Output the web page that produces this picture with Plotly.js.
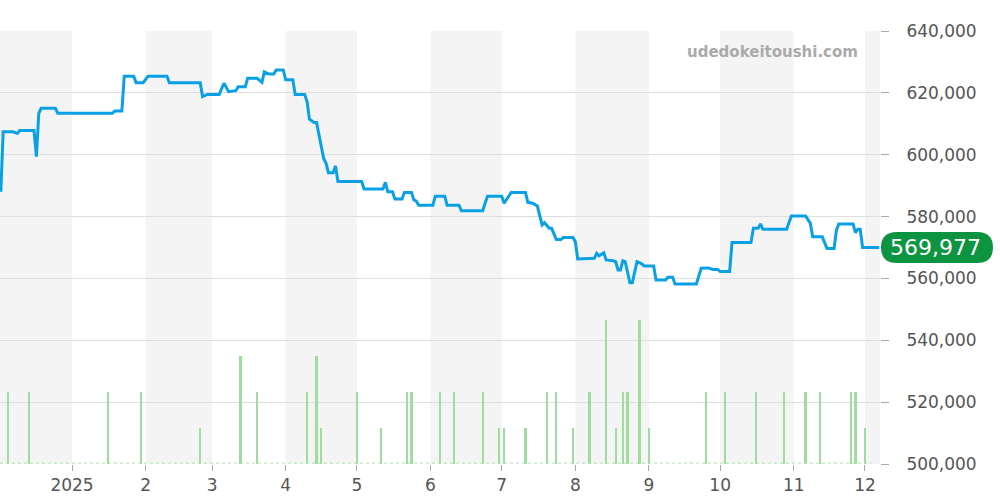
<!DOCTYPE html>
<html>
<head>
<meta charset="utf-8">
<script src="https://cdn.plot.ly/plotly-3.0.1.min.js"></script>
<style>html,body{margin:0;padding:0;background:#fff}#chart{width:1000px;height:500px}</style>
</head>
<body>
<div id="chart"></div>
<script>
const priceDates = [
 '2024-12-02','2024-12-03','2024-12-07','2024-12-09','2024-12-10','2024-12-16','2024-12-17','2024-12-18','2024-12-19','2024-12-25',
 '2024-12-26','2025-01-18','2025-01-19','2025-01-22','2025-01-23','2025-01-27','2025-01-28','2025-01-31','2025-02-02','2025-02-10',
 '2025-02-11','2025-02-24','2025-02-25','2025-02-27','2025-03-04','2025-03-06','2025-03-08','2025-03-11','2025-03-12','2025-03-15',
 '2025-03-16','2025-03-20','2025-03-22','2025-03-23','2025-03-25','2025-03-27','2025-03-28','2025-03-31','2025-04-01','2025-04-04',
 '2025-04-05','2025-04-09','2025-04-10','2025-04-11','2025-04-13','2025-04-14','2025-04-17','2025-04-18','2025-04-19','2025-04-21',
 '2025-04-22','2025-04-23','2025-05-03','2025-05-04','2025-05-12','2025-05-13','2025-05-14','2025-05-16','2025-05-17','2025-05-20',
 '2025-05-21','2025-05-24','2025-05-25','2025-05-26','2025-05-27','2025-06-02','2025-06-03','2025-06-07','2025-06-08','2025-06-13',
 '2025-06-14','2025-06-23','2025-06-24','2025-06-25','2025-07-01','2025-07-02','2025-07-05','2025-07-11','2025-07-12','2025-07-14',
 '2025-07-16','2025-07-18','2025-07-19','2025-07-21','2025-07-22','2025-07-24','2025-07-26','2025-07-27','2025-07-31','2025-08-01',
 '2025-08-02','2025-08-09','2025-08-10','2025-08-11','2025-08-13','2025-08-14','2025-08-17','2025-08-18','2025-08-19','2025-08-20',
 '2025-08-21','2025-08-22','2025-08-24','2025-08-25','2025-08-27','2025-08-29','2025-08-30','2025-09-03','2025-09-04','2025-09-08',
 '2025-09-09','2025-09-11','2025-09-12','2025-09-21','2025-09-23','2025-09-26','2025-09-28','2025-09-30','2025-10-01','2025-10-05',
 '2025-10-06','2025-10-14','2025-10-15','2025-10-17','2025-10-18','2025-10-19','2025-10-29','2025-10-31','2025-11-06','2025-11-08',
 '2025-11-09','2025-11-13','2025-11-15','2025-11-18','2025-11-19','2025-11-20','2025-11-26','2025-11-27','2025-11-28','2025-11-29',
 '2025-11-30','2025-12-07'
];
const priceValues = [
 588000,607400,607400,606900,607800,607800,599400,613400,615000,615000,
 613400,613400,614100,614100,625400,625400,623300,623300,625400,625400,
 623300,623300,618800,619500,619500,623100,620400,620700,622000,622000,
 624700,624700,623400,626800,626100,626100,627400,627400,624200,624200,
 619500,619500,617200,611500,610400,610400,598800,597200,594200,594200,
 596400,591300,591300,588900,588900,591100,588000,588000,585700,585700,
 587800,587800,585400,585000,583700,583700,586600,586600,583700,583700,
 581900,581900,584300,586600,586600,584300,587800,587800,584600,584300,
 583400,577300,578000,576200,576200,572600,572600,573200,573200,571900,
 566300,566500,568100,567300,568300,566000,565700,565400,562700,562700,
 565700,565400,558600,558600,565400,564700,564000,564000,559500,559500,
 560400,560400,558200,558200,563300,563400,562900,562900,562200,562200,
 571600,571600,576200,576200,577600,575900,575900,580200,580200,577800,
 573500,573500,569700,569700,575700,577600,577600,574800,575900,575900,
 569977,569977
];
const volDates = [
 '2024-12-05','2024-12-14','2025-01-16','2025-01-30','2025-02-24','2025-03-13','2025-03-20','2025-04-10','2025-04-14','2025-04-16',
 '2025-05-01','2025-05-11','2025-05-22','2025-05-24','2025-06-05','2025-06-11','2025-06-23','2025-06-30','2025-07-02','2025-07-11',
 '2025-07-20','2025-07-24','2025-07-31','2025-08-07','2025-08-14','2025-08-18','2025-08-21','2025-08-23','2025-08-28','2025-09-01',
 '2025-09-25','2025-10-03','2025-10-16','2025-10-28','2025-11-06','2025-11-12','2025-11-25','2025-11-27','2025-12-01'
];
const volValues = [
 2,2,2,2,1,3,2,2,3,1,
 2,1,2,2,2,2,2,1,1,1,
 2,2,1,2,4,1,2,2,4,1,
 2,2,2,2,2,2,2,2,1
];
const monthTickVals = ['2025-01-01','2025-02-01','2025-03-01','2025-04-01','2025-05-01','2025-06-01','2025-07-01','2025-08-01','2025-09-01','2025-10-01','2025-11-01','2025-12-01'];
const monthTickText = ['2025','2','3','4','5','6','7','8','9','10','11','12'];
const shadedMonths = [['2024-12-01','2025-01-01'],['2025-02-01','2025-03-01'],['2025-04-01','2025-05-01'],['2025-06-01','2025-07-01'],['2025-08-01','2025-09-01'],['2025-10-01','2025-11-01'],['2025-12-01','2026-01-01']];
const lastValue = priceValues[priceValues.length - 1];

const FONT = 'DejaVu Sans, sans-serif';
const shapes = shadedMonths.map(m => ({
  type: 'rect', xref: 'x', yref: 'paper', x0: m[0], x1: m[1], y0: 0, y1: 1,
  fillcolor: '#f4f4f4', line: {width: 0}, layer: 'below'
}));
shapes.push({
  type: 'line', xref: 'paper', yref: 'paper', x0: 0, x1: 0.99, y0: 0.002, y1: 0.002,
  line: {color: '#b3e2b3', width: 1, dash: 'dot'}, layer: 'above'
});
shapes.push({
  type: 'path', xref: 'paper', yref: 'y', xsizemode: 'pixel', ysizemode: 'pixel',
  xanchor: 1, yanchor: lastValue,
  path: 'M 17,-15.5 L 97,-15.5 Q 113,-15.5 113,0 Q 113,15.5 97,15.5 L 17,15.5 Q 1,15.5 1,0 Q 1,-15.5 17,-15.5 Z',
  fillcolor: '#0d9440', line: {width: 0}, layer: 'above'
});

const traces = [
  {
    type: 'bar', x: volDates, y: volValues, yaxis: 'y2',
    marker: {color: '#9fdc9f', line: {width: 0}}, width: 0.95 * 86400000,
    hoverinfo: 'skip'
  },
  {
    type: 'scatter', mode: 'lines', x: priceDates, y: priceValues,
    line: {color: '#0aa0e6', width: 3, shape: 'linear'}, hoverinfo: 'skip'
  }
];

const layout = {
  width: 1000, height: 500,
  margin: {l: 0, r: 120, t: 31, b: 36, pad: 0},
  paper_bgcolor: '#ffffff', plot_bgcolor: '#ffffff',
  showlegend: false, bargap: 0,
  font: {family: FONT, size: 17, color: '#555'},
  xaxis: {
    type: 'date', range: ['2024-12-01 16:00', '2025-12-07 08:00'],
    tickvals: monthTickVals, ticktext: monthTickText,
    ticks: 'outside', ticklen: 6, tickcolor: '#aaa', showgrid: false, zeroline: false,
    showline: false, tickfont: {family: FONT, size: 17, color: '#555'}
  },
  yaxis: {
    side: 'right', range: [500000, 640000], dtick: 20000, tick0: 500000,
    tickformat: ',d', ticks: 'outside', ticklen: 8, tickcolor: '#aaa',
    ticklabelstandoff: 14,
    gridcolor: '#dedede', zeroline: false, showline: false,
    tickfont: {family: FONT, size: 17, color: '#555'}
  },
  yaxis2: {overlaying: 'y', range: [0, 12], visible: false, showgrid: false},
  shapes: shapes,
  annotations: [
    {
      xref: 'paper', yref: 'paper', x: 0.977, y: 0.951, xanchor: 'right', yanchor: 'middle',
      text: '<b>udedokeitoushi.com</b>', showarrow: false,
      font: {family: FONT, size: 15, color: '#aaaaaa'}
    },
    {
      xref: 'paper', yref: 'y', x: 1, y: lastValue, xshift: 55, xanchor: 'center', yanchor: 'middle',
      text: lastValue.toLocaleString('en-US'), showarrow: false,
      font: {family: FONT, size: 22, color: '#ffffff'}
    }
  ]
};

Plotly.newPlot('chart', traces, layout, {staticPlot: true, displayModeBar: false});
</script>
</body>
</html>
